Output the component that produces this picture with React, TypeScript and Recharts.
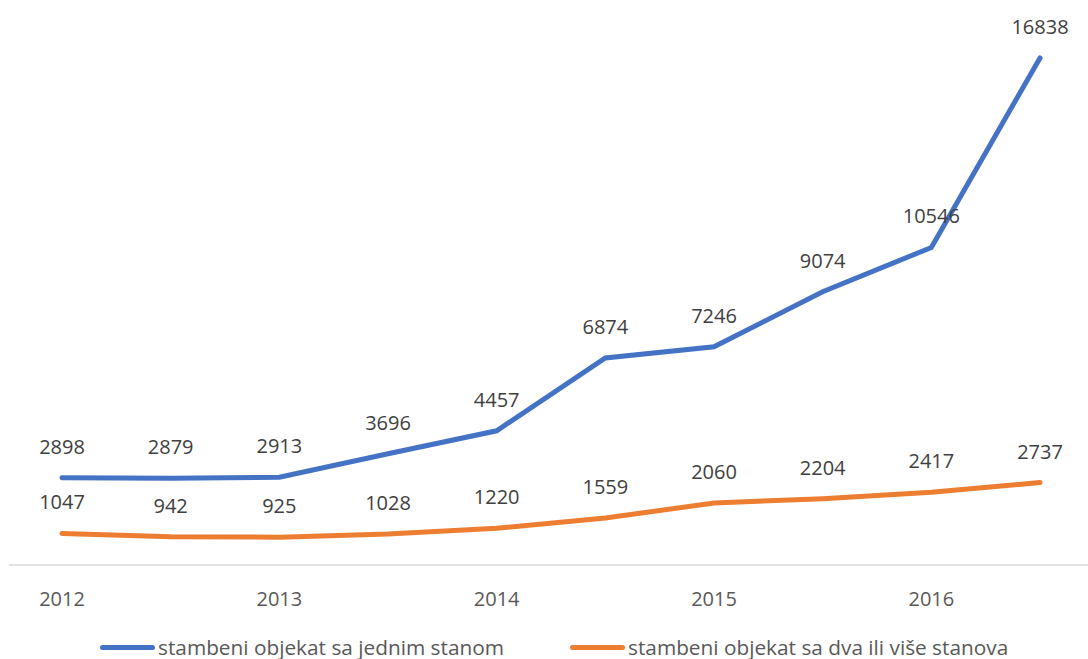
import React from 'react';
import { LineChart, Line, XAxis, YAxis, LabelList, Legend } from 'recharts';

const periods = ['2012', '2012b', '2013', '2013b', '2014', '2014b', '2015', '2015b', '2016', '2016b'];
const tickLabels = ['2012', '', '2013', '', '2014', '', '2015', '', '2016', ''];
const singleFlat = [2898, 2879, 2913, 3696, 4457, 6874, 7246, 9074, 10546, 16838];
const multiFlat = [1047, 942, 925, 1028, 1220, 1559, 2060, 2204, 2417, 2737];

const seriesNames = ['stambeni objekat sa jednim stanom', 'stambeni objekat sa dva ili više stanova'];
const colors = ['#4472C4', '#ED7D31'];

const data = periods.map((p, i) => ({ period: p, single: singleFlat[i], multi: multiFlat[i] }));

const FONT = '"Open Sans", sans-serif';

const renderLabel = (props: any) => {
  const { x, y, value } = props;
  return (
    <text x={x} y={y - 24} textAnchor="middle" fontFamily={FONT} fontSize={20} fill="#404040">
      {value}
    </text>
  );
};

const renderTick = (props: any) => {
  const { x, y, payload } = props;
  const label = tickLabels[payload.index] ?? '';
  return (
    <text x={x} y={y + 33} textAnchor="middle" fontFamily={FONT} fontSize={20} fill="#595959">
      {label}
    </text>
  );
};

const renderLegend = () => (
  <div style={{ position: 'relative', width: 1088, height: 30, fontFamily: FONT, fontSize: 20.8, color: '#595959' }}>
    {seriesNames.map((n, i) => (
      <div key={n} style={{ position: 'absolute', left: i === 0 ? 100 : 570, top: 0, display: 'flex', alignItems: 'center', whiteSpace: 'nowrap' }}>
        <div style={{ width: 55, height: 5, borderRadius: 3, background: colors[i], marginRight: 3 }} />
        <span>{n}</span>
      </div>
    ))}
  </div>
);

export default function App() {
  return (
    <div style={{ position: 'absolute', left: 0, top: 0, width: 1088, height: 659, background: '#fff' }}>
      <LineChart width={1088} height={659} data={data} margin={{ top: 23, right: 0, bottom: 14, left: 9 }}>
        <XAxis
          dataKey="period"
          axisLine={{ stroke: '#d9d9d9', strokeWidth: 1.5 }}
          tickLine={false}
          tick={renderTick}
          interval={0}
          padding={{ left: 53, right: 48 }}
          height={50}
        />
        <YAxis hide domain={[0, 18000]} />
        <Legend
          verticalAlign="bottom"
          content={renderLegend}
          wrapperStyle={{ position: 'absolute', left: 0, top: 633, width: 1088, height: 30 }}
        />
        <Line
          dataKey="single"
          name={seriesNames[0]}
          stroke={colors[0]}
          strokeWidth={5}
          dot={false}
          isAnimationActive={false}
          strokeLinecap="round"
        >
          <LabelList dataKey="single" content={renderLabel} />
        </Line>
        <Line
          dataKey="multi"
          name={seriesNames[1]}
          stroke={colors[1]}
          strokeWidth={5}
          dot={false}
          isAnimationActive={false}
          strokeLinecap="round"
        >
          <LabelList dataKey="multi" content={renderLabel} />
        </Line>
      </LineChart>
    </div>
  );
}
